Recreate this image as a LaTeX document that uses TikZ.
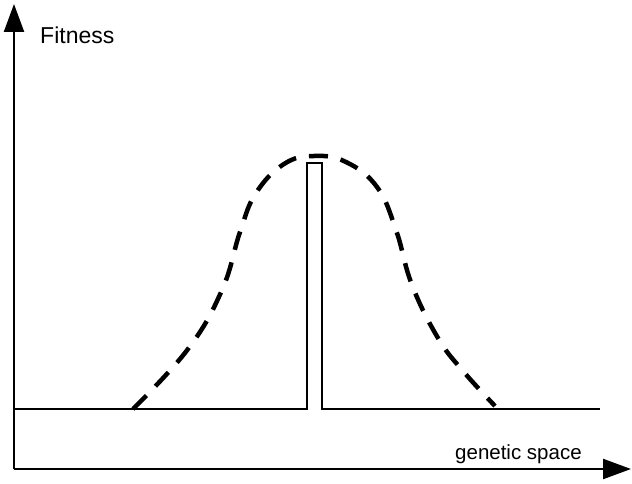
\documentclass[tikz,border=0pt]{standalone}
\usepackage{fontspec}
\setmainfont{Liberation Sans}
\usetikzlibrary{arrows.meta}
\begin{document}
\begin{tikzpicture}[x=1pt,y=-1pt,
  axis/.style={line width=2.3pt,-{Triangle[length=28pt,width=20pt]}},
  solidline/.style={line width=2.3pt},
  bell/.style={line width=4.5pt,dash pattern=on 19pt off 13pt}]
\useasboundingbox (0,0) rectangle (632,484);
\coordinate (origin) at (14,469);
\coordinate (ytip) at (14,4);
\coordinate (xtip) at (631,469);
\draw[axis] (origin) -- (ytip);
\draw[axis] (origin) -- (xtip);
\draw[solidline] (14,409) -- (307,409) -- (307,163) -- (322,163) -- (322,409) -- (600,409);
\draw[bell] plot[smooth,tension=0.7] coordinates {
  (133,409) (188,349) (222,290) (240,232) (256,193) (284,164) (314,156)
  (346,162) (377,187) (396,230) (412,285) (438,338) (463,371) (495,406)};
\node[font=\fontsize{23}{26}\selectfont,anchor=base west,inner sep=0] (fit) at (40,44) {Fitness};
\node[font=\fontsize{20.5}{24}\selectfont,anchor=base west,inner sep=0] (gen) at (455,459) {genetic space};
\end{tikzpicture}
\end{document}
